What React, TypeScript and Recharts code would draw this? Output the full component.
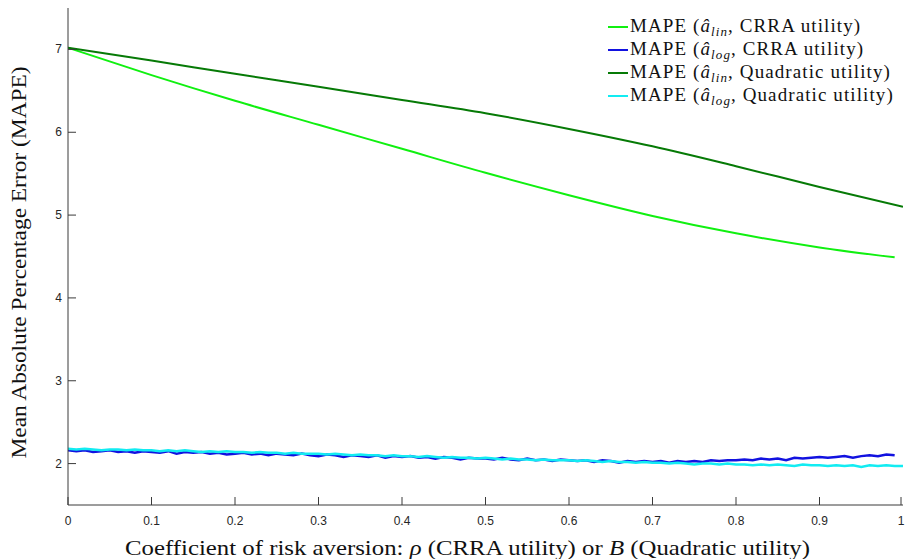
import { LineChart, Line, XAxis, YAxis, Legend } from 'recharts'

// coefficient of risk aversion grid (rho for CRRA, B for quadratic)
const coarseRho = [0, 0.1, 0.2, 0.3, 0.4, 0.5, 0.6, 0.7, 0.8, 0.9, 0.99]
const coarseB = [0, 0.1, 0.2, 0.3, 0.4, 0.5, 0.6, 0.7, 0.8, 0.9, 1]
const fineRho = Array.from({ length: 100 }, (_, i) => i / 100)
const fineB = Array.from({ length: 101 }, (_, i) => i / 100)

const xTicks = [0, 0.1, 0.2, 0.3, 0.4, 0.5, 0.6, 0.7, 0.8, 0.9, 1]
const yTicks = [2, 3, 4, 5, 6, 7]

const seriesNames = ['lin|CRRA utility', 'log|CRRA utility', 'lin|Quadratic utility', 'log|Quadratic utility']

// MAPE, a_lin estimator
const linCrra = [7.02, 6.69, 6.38, 6.09, 5.8, 5.51, 5.24, 4.99, 4.78, 4.61, 4.49]
const linQuad = [7.02, 6.865, 6.705, 6.55, 6.39, 6.23, 6.04, 5.83, 5.59, 5.34, 5.1]

// MAPE, a_log estimator (noisy simulation output)
const logCrra = [
  2.16, 2.15, 2.16, 2.14, 2.15, 2.16, 2.14, 2.15, 2.13, 2.15,
  2.14, 2.13, 2.15, 2.12, 2.14, 2.13, 2.14, 2.12, 2.13, 2.11,
  2.12, 2.13, 2.11, 2.12, 2.1, 2.12, 2.11, 2.1, 2.12, 2.1,
  2.09, 2.11, 2.1, 2.08, 2.1, 2.09, 2.08, 2.1, 2.07, 2.09,
  2.08, 2.09, 2.07, 2.08, 2.06, 2.08, 2.07, 2.05, 2.07, 2.06,
  2.06, 2.05, 2.07, 2.05, 2.04, 2.06, 2.04, 2.05, 2.03, 2.05,
  2.04, 2.03, 2.04, 2.02, 2.04, 2.03, 2.01, 2.03, 2.02, 2.03,
  2.02, 2.03, 2.01, 2.03, 2.02, 2.03, 2.02, 2.04, 2.03, 2.04,
  2.04, 2.05, 2.04, 2.06, 2.05, 2.06, 2.04, 2.07, 2.06, 2.07,
  2.08, 2.07, 2.08, 2.09, 2.07, 2.09, 2.1, 2.09, 2.11, 2.1,
]
const logQuad = [
  2.18, 2.17, 2.18, 2.17, 2.16, 2.17, 2.17, 2.16, 2.17, 2.16,
  2.16, 2.15, 2.16, 2.15, 2.16, 2.15, 2.14, 2.15, 2.14, 2.15,
  2.14, 2.14, 2.13, 2.14, 2.13, 2.13, 2.12, 2.13, 2.12, 2.12,
  2.12, 2.11, 2.12, 2.11, 2.1, 2.11, 2.1, 2.1, 2.09, 2.1,
  2.09, 2.09, 2.08, 2.09, 2.08, 2.07, 2.08, 2.07, 2.07, 2.06,
  2.07, 2.06, 2.05, 2.06, 2.05, 2.05, 2.04, 2.05, 2.04, 2.04,
  2.04, 2.03, 2.04, 2.03, 2.02, 2.03, 2.02, 2.02, 2.01, 2.02,
  2.01, 2.01, 2.0, 2.01, 2.0, 1.99, 2.0, 2.0, 1.99, 2.0,
  1.99, 1.99, 1.98, 1.99, 1.98, 1.99, 1.98, 1.97, 1.99, 1.98,
  1.98, 1.97, 1.98, 1.97, 1.98, 1.96, 1.98, 1.97, 1.98, 1.97,
  1.97,
]

const toRows = (xs: number[], ys: number[]) => xs.map((x, i) => ({ x, y: ys[i] }))

const AXIS = '#3a3a3a'
const TICK_FONT = '"Liberation Sans", Arial, sans-serif'
const SERIF = '"Liberation Serif", "Times New Roman", serif'

function BottomTick({ x, y, payload }: any) {
  return (
    <g>
      <line x1={x} y1={y} x2={x} y2={y - 8} stroke={AXIS} />
      <text x={x} y={y + 20} textAnchor="middle" fontSize={12} fontFamily={TICK_FONT} fill="#262626">
        {payload.value}
      </text>
    </g>
  )
}

function TopTick({ x, y }: any) {
  return <line x1={x} y1={y} x2={x} y2={y + 8} stroke={AXIS} />
}

function LeftTick({ x, y, payload }: any) {
  return (
    <g>
      <line x1={x} y1={y} x2={x + 8} y2={y} stroke={AXIS} />
      <text x={x - 6} y={y + 4} textAnchor="end" fontSize={12} fontFamily={TICK_FONT} fill="#262626">
        {payload.value}
      </text>
    </g>
  )
}

function RightTick({ x, y }: any) {
  return <line x1={x} y1={y} x2={x - 8} y2={y} stroke={AXIS} />
}

function XLabel({ viewBox }: any) {
  const { x, y, width } = viewBox
  return (
    <text x={x + width / 2 - 18} y={y + 50} textAnchor="middle" fontSize={21} fontFamily={SERIF} fill="#111"
      textLength={685} lengthAdjust="spacingAndGlyphs">
      Coefficient of risk aversion: <tspan fontStyle="italic">ρ</tspan> (CRRA utility) or{' '}
      <tspan fontStyle="italic">B</tspan> (Quadratic utility)
    </text>
  )
}

function YLabel({ viewBox }: any) {
  const { y, height } = viewBox
  const cx = 26
  const cy = y + height / 2 + 6
  return (
    <text x={cx} y={cy} transform={`rotate(-90 ${cx} ${cy})`} textAnchor="middle" fontSize={21}
      fontFamily={SERIF} fill="#111" textLength={392} lengthAdjust="spacingAndGlyphs">
      Mean Absolute Percentage Error (MAPE)
    </text>
  )
}

function LegendContent({ payload }: any) {
  const items = [...(payload || [])].sort(
    (a: any, b: any) => seriesNames.indexOf(a.value) - seriesNames.indexOf(b.value),
  )
  return (
    <div style={{ fontFamily: SERIF, fontSize: 19, color: '#111', letterSpacing: '1.1px' }}>
      {items.map((entry: any) => {
        const [est, util] = String(entry.value).split('|')
        return (
          <div key={entry.value}
            style={{ display: 'flex', alignItems: 'center', whiteSpace: 'nowrap', height: 23, lineHeight: '23px' }}>
            <span style={{ width: 20, height: 2, background: entry.color, marginRight: 2, display: 'inline-block' }} />
            <span>
              MAPE (<i>â</i>
              <span style={{ fontSize: 13, fontStyle: 'italic', position: 'relative', top: 4 }}>{est}</span>, {util})
            </span>
          </div>
        )
      })}
    </div>
  )
}

export default function App() {
  return (
    <div style={{ position: 'absolute', left: 0, top: 0, width: 905, height: 559, background: '#fff' }}>
      <LineChart width={905} height={559} margin={{ top: 8, right: 2, bottom: 0, left: 0 }}>
        <XAxis
          dataKey="x"
          type="number"
          domain={[0, 1]}
          ticks={xTicks}
          height={54}
          tickSize={0}
          tickMargin={0}
          tickLine={false}
          tick={<BottomTick />}
          axisLine={{ stroke: AXIS }}
          label={<XLabel />}
          allowDataOverflow
        />
        <XAxis
          xAxisId="top"
          orientation="top"
          dataKey="x"
          type="number"
          domain={[0, 1]}
          ticks={xTicks}
          height={0}
          tickSize={0}
          tickMargin={0}
          tickLine={false}
          tick={<TopTick />}
          axisLine={{ stroke: AXIS }}
          allowDataOverflow
        />
        <YAxis
          type="number"
          domain={[1.5, 7.5]}
          ticks={yTicks}
          width={68}
          tickSize={0}
          tickMargin={0}
          tickLine={false}
          tick={<LeftTick />}
          axisLine={{ stroke: AXIS }}
          label={<YLabel />}
          allowDataOverflow
        />
        <YAxis
          yAxisId="right"
          orientation="right"
          type="number"
          domain={[1.5, 7.5]}
          ticks={yTicks}
          width={0}
          tickSize={0}
          tickMargin={0}
          tickLine={false}
          tick={<RightTick />}
          axisLine={{ stroke: AXIS }}
          allowDataOverflow
        />
        <Legend
          layout="vertical"
          align="center"
          verticalAlign="middle"
          content={<LegendContent />}
          wrapperStyle={{ top: 15, left: 608, width: 300 }}
        />
        <Line data={toRows(coarseRho, linCrra)} dataKey="y" name={seriesNames[0]} type="monotone"
          stroke="#10f010" strokeWidth={2} dot={false} isAnimationActive={false} />
        <Line data={toRows(fineRho, logCrra)} dataKey="y" name={seriesNames[1]} type="linear"
          stroke="#1212e0" strokeWidth={2.5} dot={false} isAnimationActive={false} />
        <Line data={toRows(coarseB, linQuad)} dataKey="y" name={seriesNames[2]} type="monotone"
          stroke="#067a06" strokeWidth={2} dot={false} isAnimationActive={false} />
        <Line data={toRows(fineB, logQuad)} dataKey="y" name={seriesNames[3]} type="linear"
          stroke="#12ecf2" strokeWidth={2.5} dot={false} isAnimationActive={false} />
      </LineChart>
    </div>
  )
}
